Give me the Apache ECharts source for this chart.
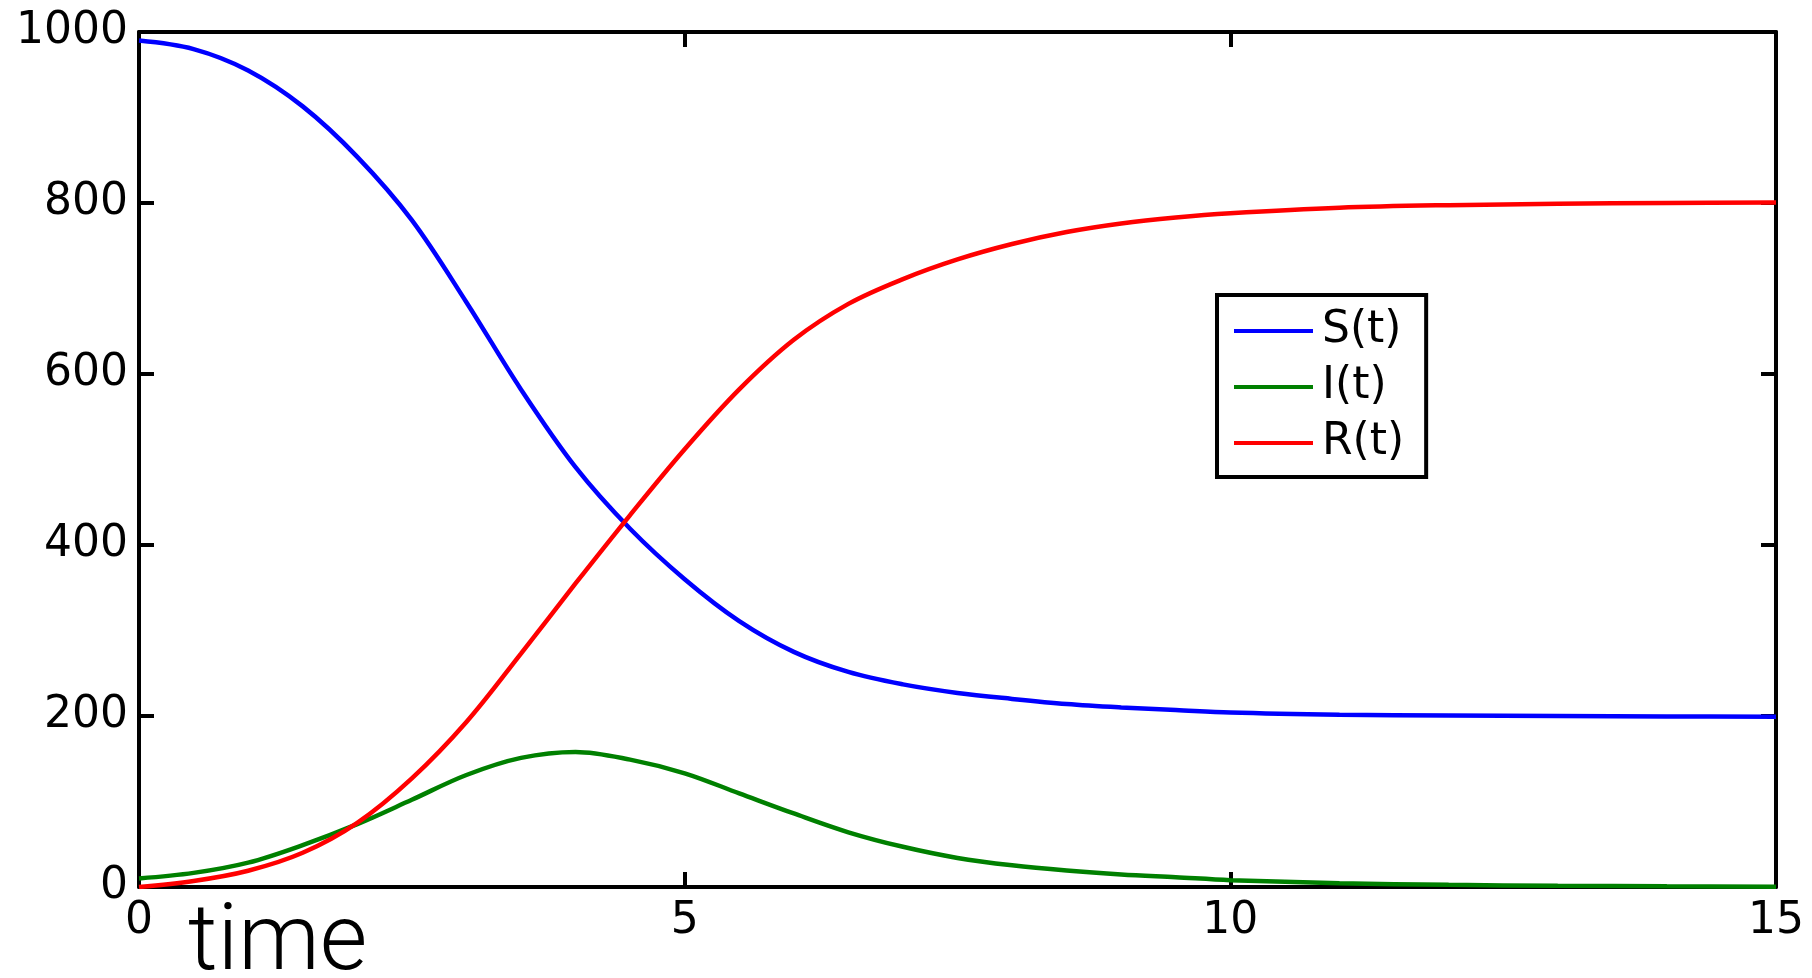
<!DOCTYPE html>
<html>
<head>
<meta charset="utf-8">
<script src="https://cdn.jsdelivr.net/npm/echarts@6/dist/echarts.min.js"></script>
<style>
html,body{margin:0;padding:0;background:#fff;}
#chart{width:1812px;height:978px;}
</style>
</head>
<body>
<div id="chart"></div>
<script>
// time points
const time = [0,0.5,1,1.5,2,2.5,3,3.5,4,4.5,5,5.5,6,6.5,7,7.5,8,8.5,9,9.5,10,11,12,13,14,15];
const S = [990,980,955,913,854,780,684,582,491,419,360,311,275,251.5,237,227,220,214,210,207,204,201.5,200.5,200,199.5,199];
const I = [10,16.5,28.5,49,73.5,102,131,151,158,149,133,109.5,86,64,47,34,25.4,19.3,14.7,11.4,8,4.5,2.5,1.4,0.8,0.4];
const R = [0,7,19,40,75,127,193,273,355,435,512,582,640,682,711,734,752,766,776,783,788,794.5,797.5,799,800,800.5];
const seriesNames = ['S(t)','I(t)','R(t)'];
const xTicks = {min:0, max:15, interval:5};
const yTicks = {min:0, max:1000, interval:200};
const xLabel = 'time';

const pairs = arr => time.map((t,i)=>[t,arr[i]]);
const FONT = 'DejaVu Sans';
const axisCommon = (pos, showLabel, isX) => ({
  type:'value', position:pos,
  min: isX?xTicks.min:yTicks.min, max: isX?xTicks.max:yTicks.max,
  interval: isX?xTicks.interval:yTicks.interval,
  axisLine:{show:true, onZero:false, lineStyle:{color:'#000', width:4}},
  axisTick:{show:true, inside:true, length:15, lineStyle:{color:'#000', width:4}},
  axisLabel:{show:showLabel, color:'#000', fontSize:44, fontFamily:FONT, margin: isX?13:11,
             formatter: v => String(v)},
  splitLine:{show:false}
});

const chart = echarts.init(document.getElementById('chart'));
chart.setOption({
  animation:false,
  backgroundColor:'#fff',
  grid:{left:139, right:36, top:32, bottom:91, containLabel:false},
  xAxis:[axisCommon('bottom', true, true), axisCommon('top', false, true)],
  yAxis:[axisCommon('left', true, false), axisCommon('right', false, false)],
  legend:{
    data:seriesNames, orient:'vertical', left:1217, top:295,
    padding:[14,22,12,17], icon:'rect', itemWidth:79, itemHeight:4, itemGap:12,
    borderColor:'#000', borderWidth:4, backgroundColor:'#fff',
    textStyle:{fontSize:44, lineHeight:40, fontFamily:FONT, color:'#000', padding:[0,0,0,4]}
  },
  graphic:[{type:'text', x:188, y:900, style:{text:xLabel, fontSize:92, fontFamily:'Roboto', fontWeight:300, fill:'#000', verticalAlign:'top'}}],
  series:[
    {name:seriesNames[0], type:'line', data:pairs(S), symbol:'none', smooth:0.35, lineStyle:{color:'#0000ff', width:4.5}, itemStyle:{color:'#0000ff'}},
    {name:seriesNames[1], type:'line', data:pairs(I), symbol:'none', smooth:0.35, lineStyle:{color:'#008000', width:4.5}, itemStyle:{color:'#008000'}},
    {name:seriesNames[2], type:'line', data:pairs(R), symbol:'none', smooth:0.35, lineStyle:{color:'#ff0000', width:4.5}, itemStyle:{color:'#ff0000'}}
  ]
});
</script>
</body>
</html>
